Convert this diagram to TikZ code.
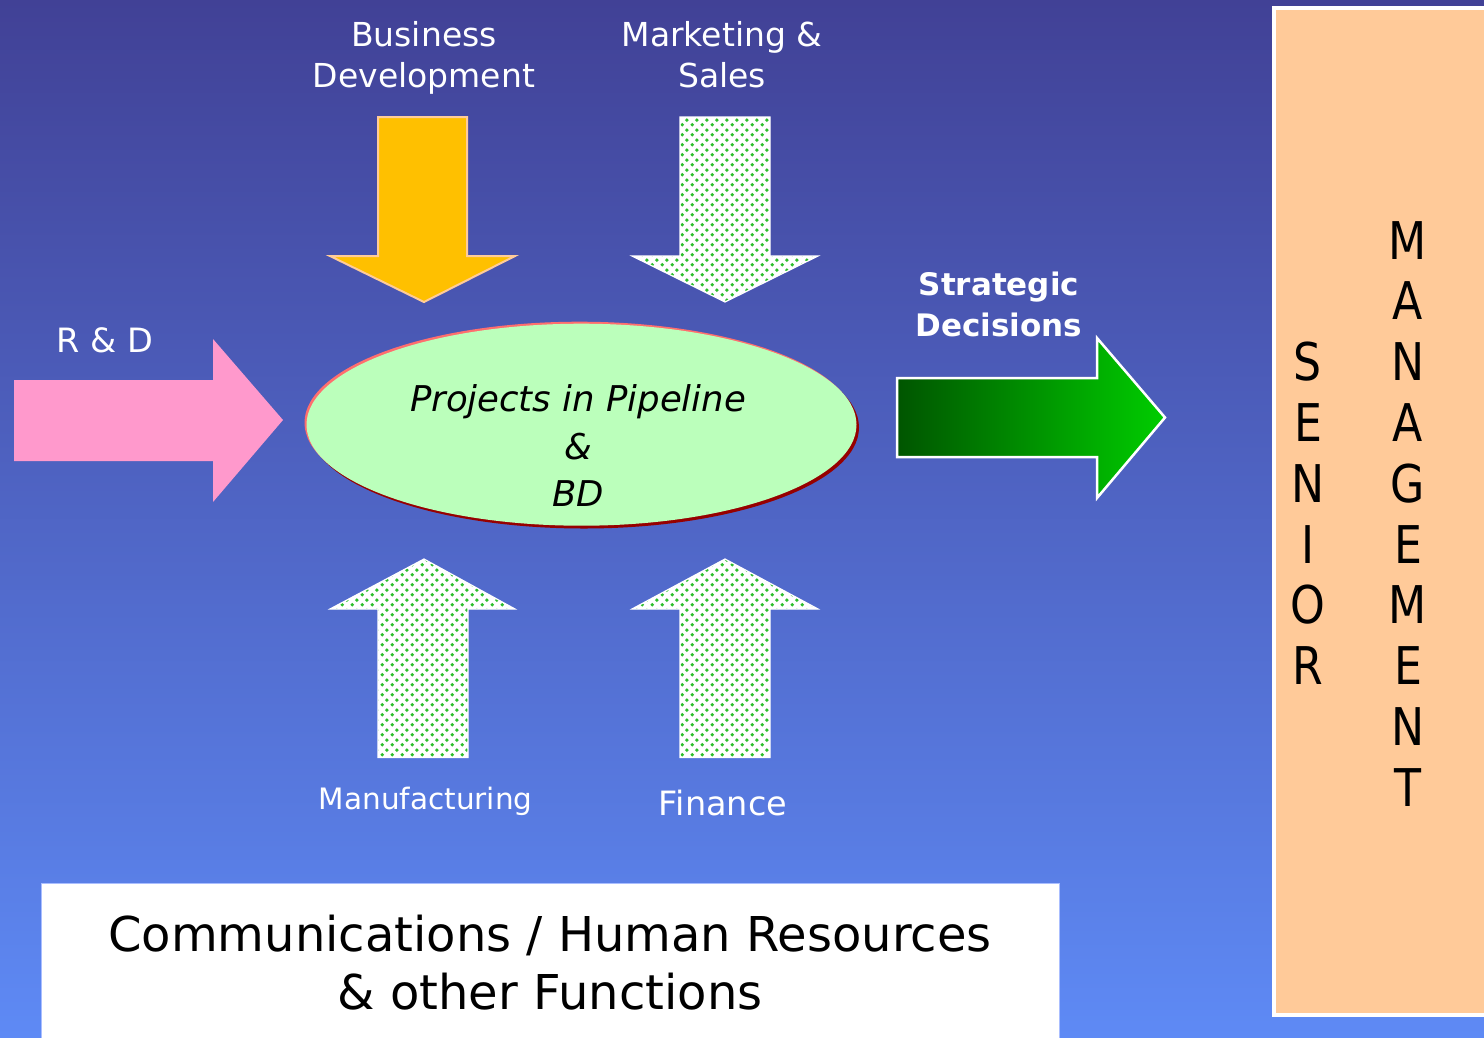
\documentclass[tikz,border=0pt]{standalone}
\usepackage{fontspec}
\setmainfont{DejaVu Sans}
\newfontfamily\narrowfont[FakeStretch=0.85]{DejaVu Sans}
\usetikzlibrary{patterns,shapes.geometric}
\pgfdeclarepatternformonly{greendots}{\pgfqpoint{0pt}{0pt}}{\pgfqpoint{10pt}{10pt}}{\pgfqpoint{10pt}{10pt}}{%
  \pgfpathcircle{\pgfqpoint{2.5pt}{2.5pt}}{2.1pt}%
  \pgfpathcircle{\pgfqpoint{7.5pt}{7.5pt}}{2.1pt}%
  \pgfusepath{fill}}
\definecolor{bgtop}{RGB}{65,65,150}
\definecolor{bgbot}{RGB}{94,138,245}
\definecolor{orangefill}{RGB}{255,192,0}
\definecolor{orangeline}{RGB}{255,204,153}
\definecolor{pinkfill}{RGB}{255,153,204}
\definecolor{dotgreen}{RGB}{45,190,45}
\definecolor{ellgreen}{RGB}{187,255,187}
\definecolor{ellsalmon}{RGB}{255,110,110}
\definecolor{elldark}{RGB}{150,0,0}
\definecolor{gdark}{RGB}{0,85,0}
\definecolor{glight}{RGB}{0,205,0}
\definecolor{peach}{RGB}{255,202,153}
\tikzset{
  dotarrow/.style={preaction={fill=white}, pattern=greendots, pattern color=dotgreen, draw=white, line width=1.2pt},
  wlabel/.style={text=white, inner sep=0pt, align=center},
  bigletter/.style={text=black, inner sep=0pt, anchor=base, font=\narrowfont\fontsize{52}{60}\selectfont},
  ellbase/.style={ellipse, minimum width=550pt, minimum height=202pt, inner sep=0pt}
}
\begin{document}
\begin{tikzpicture}[x=1pt,y=-1pt]
\useasboundingbox (0,0) rectangle (1484,1037);
\shade[top color=bgtop,bottom color=bgbot] (0,0) rectangle (1484,1037);

% top labels
\node (bdlabel) [wlabel, font=\fontsize{33}{41}\selectfont] at (424,58) {Business\\Development};
\node (mslabel) [wlabel, font=\fontsize{33}{41}\selectfont] at (722,55) {Marketing \&\\Sales};

% down arrows
\path[fill=orangefill, draw=orangeline, line width=2pt, line join=miter]
  (378,117) -- (467,117) -- (467,256) -- (515,256) -- (424,302) -- (330,256) -- (378,256) -- cycle;
\path[dotarrow]
  (680,117) -- (770,117) -- (770,256) -- (818,256) -- (725,302) -- (632,256) -- (680,256) -- cycle;

% R & D
\node (rdlabel) [wlabel, anchor=base, font=\fontsize{33.5}{40}\selectfont] at (105,352.7) {R \& D};
\path[fill=pinkfill]
  (14,380) -- (213,380) -- (213,339) -- (283,420) -- (213,502) -- (213,461) -- (14,461) -- cycle;

% central ellipse
\node (pipeshadow) [ellbase, fill=elldark] at (584,427.5) {};
\node (pipelight) [ellbase, fill=ellsalmon] at (579.5,422.7) {};
\node (pipe) [ellbase, fill=ellgreen] at (581.5,424.7) {};
\node (pipetext) [inner sep=0pt, align=center, font=\itshape\fontsize{35.5}{47.5}\selectfont] at (578,446) {Projects in Pipeline\\\&\\BD};

% strategic decisions
\node (sdlabel) [wlabel, font=\bfseries\fontsize{31}{41.6}\selectfont] at (999,304.6) {Strategic\\Decisions};
\shadedraw[left color=gdark, right color=glight, draw=white, line width=2.5pt, line join=miter]
  (897,378) -- (1097,378) -- (1097,338) -- (1165,417.5) -- (1097,498) -- (1097,457) -- (897,457) -- cycle;

% up arrows
\path[dotarrow]
  (378,757.5) -- (468,757.5) -- (468,609) -- (515,609) -- (424,559) -- (330,609) -- (378,609) -- cycle;
\path[dotarrow]
  (680,757.5) -- (770,757.5) -- (770,609) -- (818,609) -- (725,559) -- (632,609) -- (680,609) -- cycle;
\node (mflabel) [wlabel, anchor=base, font=\fontsize{29.5}{36}\selectfont] at (425.7,809.3) {Manufacturing};
\node (filabel) [wlabel, anchor=base, font=\fontsize{33.5}{40}\selectfont] at (723,815) {Finance};

% bottom box
\path[fill=white, draw={rgb,255:red,170;green,190;blue,255}, line width=0.8pt] (41,883.5) rectangle (1059.3,1045);
\node (commlabel) [inner sep=0pt, align=center, text=black, font=\fontsize{48}{58}\selectfont] at (550,963) {Communications / Human Resources\\\& other Functions};

% senior management box
\path[fill=peach, draw=white, line width=4pt] (1274,8) rectangle (1500,1014.7);
\foreach \l [count=\i] in {S,E,N,I,O,R}
  \node (sen\i) [bigletter] at (1308,{259+60.8*(\i+1)}) {\l};
\foreach \l [count=\i] in {M,A,N,A,G,E,M,E,N,T}
  \node (man\i) [bigletter] at (1408,{259+60.8*(\i-1)}) {\l};
\end{tikzpicture}
\end{document}
